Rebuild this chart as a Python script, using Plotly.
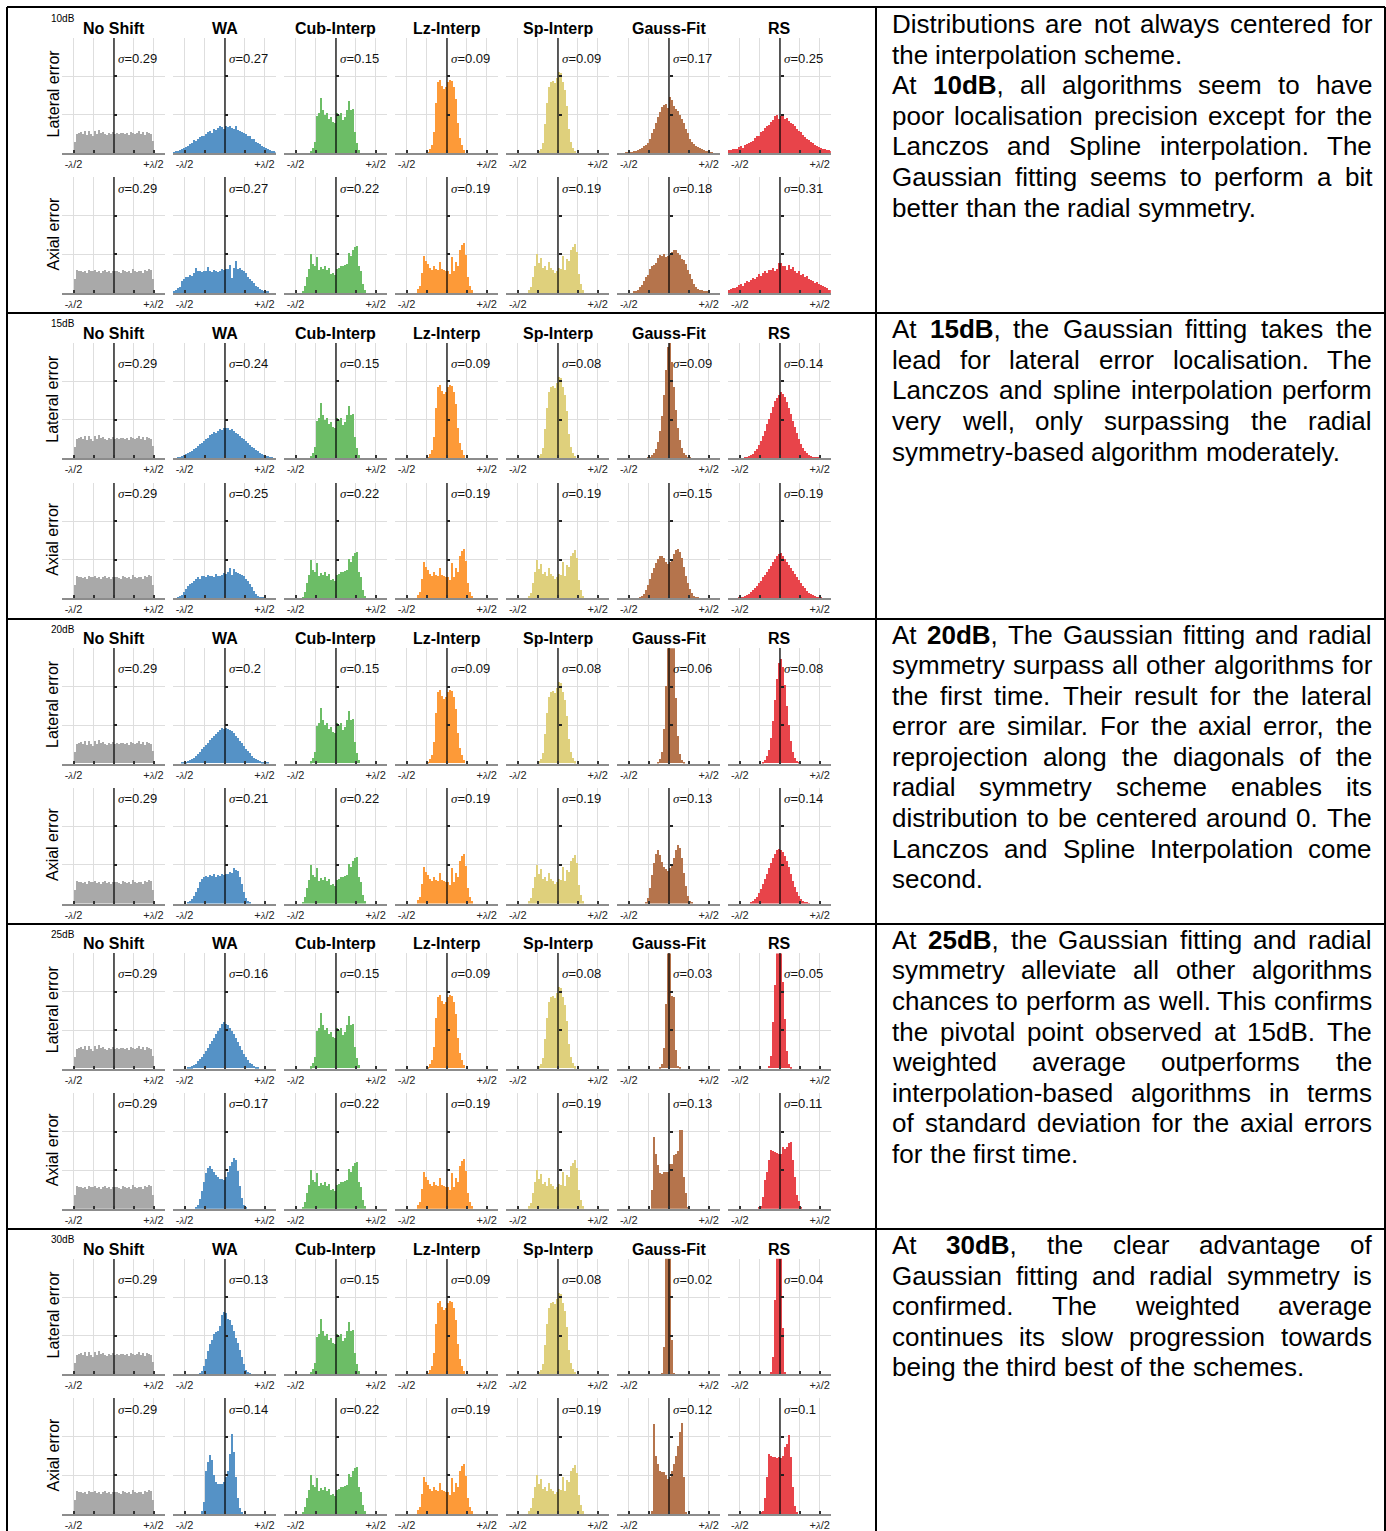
import re
import plotly.graph_objects as go

W, H = 1386, 1531
SNR = ["10dB", "15dB", "20dB", "25dB", "30dB"]
ALGOS = ["No Shift", "WA", "Cub-Interp", "Lz-Interp", "Sp-Interp", "Gauss-Fit", "RS"]
COLORS = ["#a9a9a9", "#5592c6", "#6cbd66", "#fd9a38", "#dfd07c", "#b5744c", "#e8444a"]
BIN = 0.025
TICK_VALS = [-0.5, -0.25, 0, 0.25, 0.5]
X_RANGE = [-0.65, 0.6375]
GRID_Y = [100, 200, 300]

SIGMA_LAT = [
    ["0.29", "0.27", "0.15", "0.09", "0.09", "0.17", "0.25"],
    ["0.29", "0.24", "0.15", "0.09", "0.08", "0.09", "0.14"],
    ["0.29", "0.2", "0.15", "0.09", "0.08", "0.06", "0.08"],
    ["0.29", "0.16", "0.15", "0.09", "0.08", "0.03", "0.05"],
    ["0.29", "0.13", "0.15", "0.09", "0.08", "0.02", "0.04"],
]
SIGMA_AX = [
    ["0.29", "0.27", "0.22", "0.19", "0.19", "0.18", "0.31"],
    ["0.29", "0.25", "0.22", "0.19", "0.19", "0.15", "0.19"],
    ["0.29", "0.21", "0.22", "0.19", "0.19", "0.13", "0.14"],
    ["0.29", "0.17", "0.22", "0.19", "0.19", "0.13", "0.11"],
    ["0.29", "0.14", "0.22", "0.19", "0.19", "0.12", "0.1"],
]

# Histogram bin heights (1 grid step = 100), first bin starts at *_X0 (units of lambda)
NOSHIFT_LAT_X0 = -0.5
NOSHIFT_LAT_H = [30, 50, 52, 55, 49, 57, 47, 58, 51, 45, 57, 50, 60, 52, 55, 50, 47, 53, 50, 55,
                 49, 52, 50, 54, 52, 50, 53, 48, 55, 52, 50, 54, 57, 50, 55, 48, 56, 52, 50, 32]
NOSHIFT_AX_X0 = -0.5
NOSHIFT_AX_H = [35, 58, 55, 56, 54, 57, 52, 58, 55, 56, 60, 54, 57, 52, 55, 58, 54, 56, 52, 57,
                55, 56, 54, 52, 58, 55, 54, 57, 52, 62, 55, 54, 57, 56, 52, 60, 55, 62, 58, 35]

WA_LAT_X0 = [-0.65, -0.6, -0.55, -0.475, -0.325]
WA_LAT_H = [
    [4, 5, 7, 8, 10, 14, 17, 20, 24, 27, 34, 32, 38, 42, 44, 46, 50, 55, 58, 54, 62, 60, 66, 70, 68, 64,
     70, 68, 71, 66, 62, 70, 60, 58, 55, 52, 50, 45, 44, 38, 36, 30, 27, 24, 20, 16, 14, 10, 8, 6, 5, 4],
    [3, 4, 6, 8, 10, 13, 16, 20, 24, 28, 32, 36, 40, 46, 50, 54, 60, 62, 68, 66, 72, 76, 74, 80,
     78, 80, 74, 76, 70, 66, 62, 58, 52, 50, 44, 40, 34, 30, 26, 22, 18, 15, 12, 9, 7, 5, 4, 3],
    [2, 3, 4, 6, 8, 11, 15, 20, 25, 30, 36, 42, 48, 54, 60, 66, 72, 76, 82, 86, 92, 88,
     93, 90, 86, 84, 78, 72, 66, 58, 52, 45, 38, 32, 26, 20, 15, 11, 8, 6, 4, 3, 2, 1],
    [2, 3, 5, 8, 12, 18, 24, 30, 38, 46, 54, 62, 70, 80, 88, 96, 106, 114, 120,
     116, 112, 104, 96, 88, 78, 68, 58, 48, 38, 30, 22, 15, 10, 6, 3, 2],
    [3, 8, 22, 40, 60, 78, 90, 104, 110, 112, 125, 155, 162,
     160, 145, 140, 128, 112, 95, 82, 62, 45, 28, 12, 5, 2],
]
WA_AX_X0 = [-0.65, -0.6, -0.475, -0.375, -0.3]
WA_AX_H = [
    [5, 8, 12, 16, 30, 36, 40, 42, 46, 44, 50, 63, 55, 56, 54, 57, 55, 67, 56, 54, 58, 55, 53, 57,
     62, 60, 61, 62, 72, 37, 64, 81, 62, 63, 58, 56, 50, 42, 36, 30, 24, 18, 16, 10, 6, 5, 3, 2],
    [3, 6, 10, 18, 26, 32, 38, 42, 46, 50, 55, 52, 58, 60, 56, 62, 58, 60, 57, 64, 60, 58,
     62, 66, 64, 68, 80, 62, 76, 70, 66, 64, 62, 58, 52, 46, 38, 30, 20, 12, 8, 5, 3, 2],
    [3, 6, 12, 20, 30, 42, 55, 64, 70, 72, 68, 74, 72, 76, 70, 74,
     72, 76, 74, 78, 76, 82, 80, 92, 88, 84, 70, 50, 30, 14, 6, 2],
    [3, 10, 25, 45, 70, 92, 105, 111, 104, 95, 88, 82, 78,
     76, 74, 82, 95, 110, 122, 132, 125, 98, 60, 28, 10, 3],
    [7, 30, 110, 135, 152, 138, 100, 82, 78, 76, 78, 82,
     95, 112, 155, 207, 160, 95, 40, 15, 5],
]

CUB_LAT_X0 = -0.325
CUB_LAT_H = [5, 15, 30, 98, 105, 143, 112, 100, 104, 88, 95, 82, 80,
             104, 100, 104, 86, 95, 112, 137, 112, 115, 55, 28, 8]
CUB_AX_X0 = -0.425
CUB_AX_H = [5, 18, 42, 62, 100, 75, 68, 92, 60, 66, 62, 70, 60, 64, 48, 50,
            46, 62, 64, 70, 68, 72, 75, 104, 95, 110, 118, 122, 70, 55, 22, 8]
LZ_LAT_X0 = -0.25
LZ_LAT_H = [4, 10, 22, 55, 130, 185, 190, 175, 168, 172, 185, 192, 188, 172, 140, 80, 40, 22, 8]
LZ_AX_X0 = -0.375
LZ_AX_H = [10, 18, 50, 94, 82, 75, 64, 58, 70, 62, 60, 80, 62, 58,
           55, 56, 48, 92, 55, 80, 70, 112, 124, 128, 98, 40, 18, 6]
SP_LAT_X0 = -0.25
SP_LAT_H = [5, 12, 28, 75, 130, 172, 185, 188, 182, 195, 212, 210, 185, 165, 122, 62, 30, 15, 5]
SP_AX_X0 = -0.375
SP_AX_H = [8, 15, 40, 70, 100, 78, 90, 65, 70, 58, 80, 64, 60, 52,
           55, 65, 62, 95, 58, 88, 82, 112, 118, 125, 105, 48, 22, 8]

GAUSS_LAT_X0 = [-0.55, -0.275, -0.15, -0.125, -0.1]
GAUSS_LAT_H = [
    [1, 2, 3, 4, 5, 7, 9, 11, 14, 18, 22, 27, 38, 52, 64, 80, 95, 108, 120, 126, 128, 118,
     146, 138, 124, 116, 110, 100, 90, 78, 64, 52, 38, 30, 24, 20, 16, 13, 10, 8, 7, 5, 4, 3],
    [2, 4, 8, 14, 25, 42, 70, 110, 165, 230, 290, 300, 250, 185, 125, 80, 48, 28, 15, 8, 4, 2],
    [3, 10, 30, 90, 200, 330, 420, 380, 300, 170, 70, 25, 8, 3],
    [4, 10, 52, 168, 330, 330, 188, 186, 48, 6, 2],
    [3, 72, 360, 400, 400, 90, 3],
]
GAUSS_AX_X0 = [-0.45, -0.375, -0.3, -0.225, -0.225]
GAUSS_AX_H = [
    [2, 4, 6, 14, 20, 30, 42, 46, 62, 70, 72, 78, 90, 98, 95, 100, 92, 96, 98,
     105, 110, 112, 102, 98, 88, 84, 75, 60, 48, 36, 22, 14, 10, 8, 6, 4, 3, 2],
    [3, 6, 12, 22, 35, 50, 66, 80, 92, 102, 110, 112, 105, 96, 90,
     94, 104, 116, 126, 130, 122, 105, 82, 60, 40, 25, 14, 7, 3, 2],
    [4, 15, 40, 75, 105, 128, 139, 125, 108, 95, 90, 86,
     92, 100, 118, 140, 152, 145, 118, 80, 45, 20, 8, 3],
    [48, 187, 143, 113, 92, 90, 96, 94, 96, 117, 117, 140, 143, 150, 203, 203, 83, 40, 4],
    [7, 233, 150, 130, 111, 108, 107, 100, 90, 96, 110, 129, 150, 175, 211, 235, 94, 5],
]

RS_LAT_X0 = [-0.65, -0.45, -0.225, -0.15, -0.125]
RS_LAT_H = [
    [8, 8, 10, 10, 12, 16, 18, 15, 22, 24, 26, 30, 32, 40, 45, 46, 55, 58, 66, 72, 74, 82, 86, 96, 100, 88,
     98, 96, 90, 92, 84, 80, 76, 70, 62, 58, 56, 48, 42, 38, 34, 30, 26, 22, 20, 16, 14, 12, 10, 8, 8, 6],
    [2, 3, 5, 8, 12, 18, 25, 34, 45, 58, 72, 88, 102, 118, 134, 148, 158, 166, 172,
     168, 160, 146, 132, 116, 98, 82, 66, 50, 38, 28, 20, 14, 9, 6, 4, 3, 2, 1],
    [3, 8, 18, 35, 65, 110, 165, 220, 262, 272, 250, 205, 150, 100, 58, 30, 14, 6, 2],
    [7, 33, 120, 216, 320, 360, 340, 224, 129, 46, 11, 3],
    [7, 46, 194, 340, 380, 360, 120, 7],
]
RS_AX_X0 = [-0.65, -0.525, -0.375, -0.275, -0.25]
RS_AX_H = [
    [8, 10, 12, 12, 16, 20, 22, 18, 26, 30, 28, 34, 38, 36, 42, 48, 44, 52, 56, 50, 60, 58, 64, 56, 62, 77,
     76, 68, 70, 60, 72, 62, 66, 55, 52, 56, 46, 48, 40, 44, 36, 34, 30, 26, 28, 22, 20, 18, 14, 12, 8, 6],
    [2, 3, 5, 7, 10, 13, 17, 22, 27, 33, 40, 47, 55, 62, 70, 78, 86, 94, 102, 110, 116,
     118, 112, 104, 96, 88, 80, 72, 64, 56, 48, 40, 33, 27, 21, 16, 12, 9, 6, 4, 3, 2],
    [3, 6, 11, 18, 27, 38, 50, 64, 78, 92, 106, 118, 130, 138, 143,
     140, 134, 124, 110, 95, 78, 60, 44, 30, 19, 11, 6, 3, 2, 1],
    [3, 8, 30, 75, 95, 126, 152, 150, 146, 144, 143, 142, 161, 155, 160, 170, 174, 126, 83, 35, 20, 4],
    [3, 8, 40, 94, 155, 150, 146, 148, 144, 146, 145, 150, 172, 181, 203, 146, 68, 20, 5],
]

NOTES = [
    [["Distributions are not always centered for", "the interpolation scheme."],
     ["At **10dB**, all algorithms seem to have", "poor localisation precision except for the",
      "Lanczos and Spline interpolation. The", "Gaussian fitting seems to perform a bit",
      "better than the radial symmetry."]],
    [["At **15dB**, the Gaussian fitting takes the", "lead for lateral error localisation. The",
      "Lanczos and spline interpolation perform", "very well, only surpassing the radial",
      "symmetry-based algorithm moderately."]],
    [["At **20dB**, The Gaussian fitting and radial", "symmetry surpass all other algorithms for",
      "the first time. Their result for the lateral", "error are similar. For the axial error, the",
      "reprojection along the diagonals of the", "radial symmetry scheme enables its",
      "distribution to be centered around 0. The", "Lanczos and Spline Interpolation come",
      "second."]],
    [["At **25dB**, the Gaussian fitting and radial", "symmetry alleviate all other algorithms",
      "chances to perform as well. This confirms", "the pivotal point observed at 15dB. The",
      "weighted average outperforms the", "interpolation-based algorithms in terms",
      "of standard deviation for the axial errors", "for the first time."]],
    [["At **30dB**, the clear advantage of", "Gaussian fitting and radial symmetry is",
      "confirmed. The weighted average", "continues its slow progression towards",
      "being the third best of the schemes."]],
]

# ---------------------------------------------------------------- helpers
def lat_hist(k, j):
    if j == 0: return NOSHIFT_LAT_X0, NOSHIFT_LAT_H
    if j == 1: return WA_LAT_X0[k], WA_LAT_H[k]
    if j == 2: return CUB_LAT_X0, CUB_LAT_H
    if j == 3: return LZ_LAT_X0, LZ_LAT_H
    if j == 4: return SP_LAT_X0, SP_LAT_H
    if j == 5: return GAUSS_LAT_X0[k], GAUSS_LAT_H[k]
    return RS_LAT_X0[k], RS_LAT_H[k]


def ax_hist(k, j):
    if j == 0: return NOSHIFT_AX_X0, NOSHIFT_AX_H
    if j == 1: return WA_AX_X0[k], WA_AX_H[k]
    if j == 2: return CUB_AX_X0, CUB_AX_H
    if j == 3: return LZ_AX_X0, LZ_AX_H
    if j == 4: return SP_AX_X0, SP_AX_H
    if j == 5: return GAUSS_AX_X0[k], GAUSS_AX_H[k]
    return RS_AX_X0[k], RS_AX_H[k]


def fx(px): return px / W
def fy(py): return 1 - py / H


FONT = "Liberation Sans, Arial, sans-serif"
SERIF_I = "<span style='font-family:Liberation Serif;font-style:italic'>%s</span>"
LAM_M = "-" + SERIF_I % "λ" + "/2"
LAM_P = "+" + SERIF_I % "λ" + "/2"


def note(x, y, text, size, xanchor="center", yanchor="middle", angle=0, color="black"):
    return dict(x=fx(x), y=fy(y), text=text, showarrow=False, xref="paper", yref="paper",
                xanchor=xanchor, yanchor=yanchor, textangle=angle, borderpad=0,
                font=dict(size=size, color=color, family=FONT))


fig = go.Figure()
layout = {}
annotations = []
shapes = []

n = 0
for k in range(5):
    r0 = 7 + 305.25 * k
    annotations.append(note(63, r0 + 11.5, SNR[k], 10))
    annotations.append(note(52.5, r0 + 87, "Lateral error", 16, angle=-90))
    annotations.append(note(52.5, r0 + 227, "Axial error", 16, angle=-90))
    for j in range(7):
        cx = 113.5 + 111.05 * j
        annotations.append(note(cx, r0 + 21, "<b>%s</b>" % ALGOS[j], 16))
        for s in range(2):
            n += 1
            if s == 0:
                top, bot = r0 + 30.7, r0 + 146
                x0, hts = lat_hist(k, j)
                sig, sy = SIGMA_LAT[k][j], r0 + 51
            else:
                top, bot = r0 + 170.3, r0 + 286
                x0, hts = ax_hist(k, j)
                sig, sy = SIGMA_AX[k][j], r0 + 181
            xs = [x0 + BIN * (i + 0.5) for i in range(len(hts))]
            xn = "x" if n == 1 else "x%d" % n
            yn = "y" if n == 1 else "y%d" % n
            fig.add_trace(go.Bar(x=xs, y=hts, width=BIN * 1.2, xaxis=xn, yaxis=yn,
                                 marker=dict(color=COLORS[j], line=dict(width=0)),
                                 showlegend=False, hoverinfo="skip"))
            xk = "xaxis" if n == 1 else "xaxis%d" % n
            yk = "yaxis" if n == 1 else "yaxis%d" % n
            layout[xk] = dict(domain=[fx(cx - 52), fx(cx + 51)], anchor=yn, range=X_RANGE,
                              tickmode="array", tickvals=TICK_VALS,
                              ticktext=[LAM_M, "", "", "", LAM_P],
                              showgrid=True, gridcolor="#dedede", gridwidth=1, zeroline=False,
                              showline=True, linecolor="#8c8c8c", linewidth=2,
                              ticks="inside", ticklen=3, tickwidth=1.5, tickcolor="#333333",
                              tickfont=dict(size=11, color="#222222", family=FONT),
                              ticklabelstandoff=0, fixedrange=True)
            layout[yk] = dict(domain=[fy(bot), fy(top)], anchor="free", position=fx(cx),
                              range=[0, 300], tickmode="array", tickvals=GRID_Y,
                              showticklabels=False, showgrid=True, gridcolor="#dedede", gridwidth=1,
                              zeroline=False, showline=True, linecolor="rgba(0,0,0,0.62)", linewidth=1.6,
                              ticks="inside", ticklen=3, tickwidth=1.5, tickcolor="#222222",
                              fixedrange=True)
            annotations.append(note(cx + 3, sy, (SERIF_I % "σ") + "=" + sig, 13,
                                    xanchor="left", color="#111111"))

# ---------------------------------------------------------------- right column text
REG_W = {' ': 278, ',': 278, '.': 278, '-': 333, '0': 556, '1': 556, '2': 556, '3': 556, '4': 556,
         '5': 556, '6': 556, '7': 556, '8': 556, '9': 556,
         'A': 667, 'B': 667, 'C': 722, 'D': 722, 'E': 667, 'F': 611, 'G': 778, 'H': 722, 'I': 278,
         'J': 500, 'K': 667, 'L': 556, 'M': 833, 'N': 722, 'O': 778, 'P': 667, 'Q': 778, 'R': 722,
         'S': 667, 'T': 611, 'U': 722, 'V': 667, 'W': 944, 'X': 667, 'Y': 667, 'Z': 611,
         'a': 556, 'b': 556, 'c': 500, 'd': 556, 'e': 556, 'f': 278, 'g': 556, 'h': 556, 'i': 222,
         'j': 222, 'k': 500, 'l': 222, 'm': 833, 'n': 556, 'o': 556, 'p': 556, 'q': 556, 'r': 333,
         's': 500, 't': 278, 'u': 556, 'v': 500, 'w': 722, 'x': 500, 'y': 500, 'z': 500}
BOLD_W = {'0': 556, '1': 556, '2': 556, '3': 556, '5': 556, 'd': 611, 'B': 722}
FS = 26
TX0, TX1 = 891, 1371
LINE_H = 30.6


def word_info(word):
    parts = re.split(r"(\*\*.+?\*\*)", word)
    html, width = "", 0.0
    for p in parts:
        if not p:
            continue
        if p.startswith("**"):
            t = p[2:-2]
            html += "<b>%s</b>" % t
            width += sum(BOLD_W.get(c, REG_W.get(c, 556)) for c in t)
        else:
            html += p
            width += sum(REG_W.get(c, 556) for c in p)
    return html, width * FS / 1000.0


for k in range(5):
    r0 = 7 + 305.25 * k
    li = 0
    for para in NOTES[k]:
        for idx, line in enumerate(para):
            words = [word_info(w) for w in line.split(" ")]
            tot = sum(w for _, w in words)
            last = idx == len(para) - 1
            gap = REG_W[' '] * FS / 1000.0
            if not last and len(words) > 1:
                gap = (TX1 - TX0 - tot) / (len(words) - 1)
            x = TX0
            yc = r0 + 17 + LINE_H * li
            for html, w in words:
                annotations.append(note(x, yc, html, FS, xanchor="left"))
                x += w + gap
            li += 1

# ---------------------------------------------------------------- table lines
def hline(y, x0=7, x1=1385):
    shapes.append(dict(type="line", xref="paper", yref="paper", x0=fx(x0), x1=fx(x1),
                       y0=fy(y), y1=fy(y), line=dict(color="black", width=2)))


def vline(x, y0=7, y1=1531):
    shapes.append(dict(type="line", xref="paper", yref="paper", x0=fx(x), x1=fx(x),
                       y0=fy(y0), y1=fy(y1), line=dict(color="black", width=2)))


hline(7)
for yy in [313, 619, 924, 1229]:
    hline(yy)
vline(7)
vline(876)
vline(1385)

fig.update_layout(**layout)
fig.update_layout(width=W, height=H, margin=dict(l=0, r=0, t=0, b=0),
                  paper_bgcolor="white", plot_bgcolor="white", showlegend=False,
                  annotations=annotations, shapes=shapes, bargap=0,
                  font=dict(family=FONT, color="black"))

fig.write_html("out.html", config={"displayModeBar": False},
               post_script="document.body.style.margin='0px';")
